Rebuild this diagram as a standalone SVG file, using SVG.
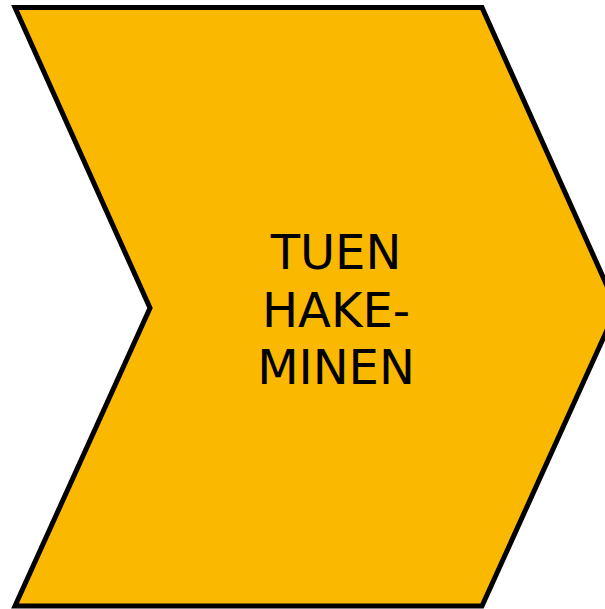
<svg xmlns="http://www.w3.org/2000/svg" width="605" height="609" viewBox="0 0 605 609">
<style>
.shape{fill:#FBB800;stroke:#000;stroke-width:5;stroke-linejoin:miter}
.lbl{font-family:"DejaVu Sans",Verdana,sans-serif;font-size:48px;fill:#000;text-anchor:middle}
</style>
<rect width="605" height="609" fill="#fff"/>
<g id="chevron">
<polygon class="shape" points="15,7.5 482,7.5 617,308 482,606 15,606 150,308"/>
<text class="lbl" x="336" y="269">TUEN</text>
<text class="lbl" x="336" y="327">HAKE-</text>
<text class="lbl" x="336" y="384">MINEN</text>
</g>
</svg>
